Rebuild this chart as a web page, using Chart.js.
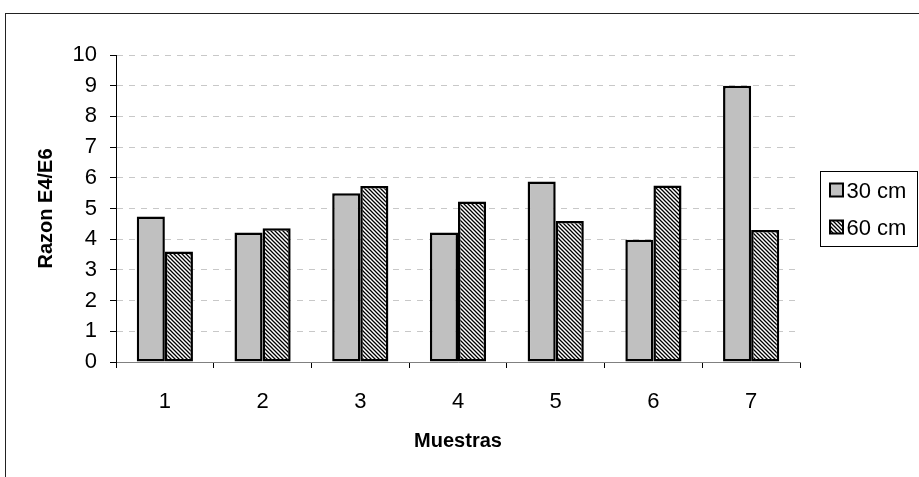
<!DOCTYPE html>
<html>
<head>
<meta charset="utf-8">
<script src="https://cdn.jsdelivr.net/npm/chart.js@4.4.1/dist/chart.umd.min.js"></script>
<style>
  html, body { margin: 0; padding: 0; background: #fff; }
  #wrap { width: 919px; height: 477px; }
</style>
</head>
<body>
<div id="wrap"><canvas id="myChart" width="919" height="477"></canvas></div>
<script>
(() => {

  const muestras = ['1', '2', '3', '4', '5', '6', '7'];
  const serie30 = [4.74, 4.22, 5.50, 4.22, 5.88, 3.98, 9.00];
  const serie60 = [3.60, 4.36, 5.73, 5.23, 4.59, 5.75, 4.30];
  const seriesNames = ['30 cm', '60 cm'];
  const yTitle = 'Razon E4/E6';
  const xTitle = 'Muestras';

  const fontName = '"Liberation Sans", Arial, sans-serif';

  // hatch fill for the 60 cm bars
  const makeHatch = () => {
    const pc = document.createElement('canvas');
    pc.width = 4;
    pc.height = 4;
    const g = pc.getContext('2d');
    g.fillStyle = '#fff';
    g.fillRect(0, 0, 4, 4);
    g.strokeStyle = '#000';
    g.lineWidth = 1.3;
    g.beginPath();
    g.moveTo(-1, -1); g.lineTo(5, 5);
    g.moveTo(-1, 3); g.lineTo(1, 5);
    g.moveTo(3, -1); g.lineTo(5, 1);
    g.stroke();
    return g.createPattern(pc, 'repeat');
  };
  const hatch = makeHatch();

  // white background and the outer frame
  const framePlugin = {
    id: 'frame',
    beforeDraw: (chart) => {
      const c = chart.ctx;
      c.save();
      c.fillStyle = '#fff';
      c.fillRect(0, 0, chart.width, chart.height);
      c.restore();
    },
    afterDraw: (chart) => {
      const c = chart.ctx;
      c.save();
      c.strokeStyle = '#222';
      c.lineWidth = 1;
      c.strokeRect(5.5, 13.5, 2000, 2000);
      c.restore();
    }
  };

  // legend box on the right, like the original
  const legendPlugin = {
    id: 'boxLegend',
    afterDraw: (chart) => {
      const c = chart.ctx;
      const area = chart.chartArea;
      const bx = area.right + 20.5;
      const by = 171.5;
      c.save();
      c.strokeStyle = '#000';
      c.lineWidth = 1;
      c.strokeRect(bx, by, 97, 75);
      c.font = '22px ' + fontName;
      c.textBaseline = 'middle';
      c.textAlign = 'left';
      chart.data.datasets.forEach((ds, i) => {
        const sy = by + 12 + i * 37;
        c.fillStyle = ds.backgroundColor;
        c.fillRect(bx + 9.5, sy, 13, 13);
        c.lineWidth = 2;
        c.strokeStyle = '#000';
        c.strokeRect(bx + 9.5, sy, 13, 13);
        c.fillStyle = '#000';
        c.fillText(ds.label, bx + 26, sy + 8);
      });
      c.restore();
    }
  };

  const ctx = document.getElementById('myChart');
  const myChart = new Chart(ctx, {
    type: 'bar',
    data: {
      labels: muestras,
      datasets: [{
        label: seriesNames[0],
        data: serie30,
        backgroundColor: '#c0c0c0',
        borderColor: '#000',
        borderWidth: 2.5,
        borderSkipped: false
      }, {
        label: seriesNames[1],
        data: serie60,
        backgroundColor: hatch,
        borderColor: '#000',
        borderWidth: 2.5,
        borderSkipped: false
      }]
    },
    options: {
      responsive: false,
      devicePixelRatio: 1,
      animation: false,
      layout: { padding: { left: 0, right: 119, top: 55, bottom: 0 } },
      datasets: { bar: { categoryPercentage: 0.575, barPercentage: 1 } },
      plugins: {
        legend: { display: false },
        tooltip: { enabled: false }
      },
      scales: {
        x: {
          afterFit: (s) => { s.height = 115; },
          grid: {
            display: true,
            drawOnChartArea: false,
            tickLength: 6,
            tickColor: '#000',
            offset: true
          },
          border: { display: true, color: '#808080', width: 1 },
          ticks: {
            color: '#000',
            padding: 21,
            font: { family: fontName, size: 22 }
          },
          title: {
            display: true,
            text: xTitle,
            color: '#000',
            padding: { top: 0, bottom: 24 },
            font: { family: fontName, size: 20, weight: 'bold' }
          }
        },
        y: {
          min: 0,
          max: 10,
          afterFit: (s) => { s.width = 116; },
          grid: {
            color: '#c8c8c8',
            lineWidth: 1,
            tickLength: 6,
            tickColor: '#000',
            tickBorderDash: []
          },
          border: { display: true, color: '#000', width: 1, dash: [6, 6] },
          ticks: {
            stepSize: 1,
            color: '#000',
            padding: 13,
            font: { family: fontName, size: 22 }
          },
          title: {
            display: true,
            text: yTitle,
            color: '#000',
            padding: { top: 34, bottom: 0 },
            font: { family: fontName, size: 20, weight: 'bold' }
          }
        }
      }
    },
    plugins: [framePlugin, legendPlugin]
  });

})();
</script>
</body>
</html>
